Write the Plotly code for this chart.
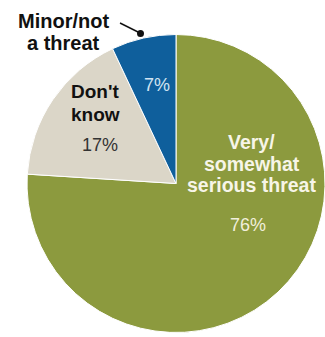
import plotly.graph_objects as go

W, H = 325, 337

categories = ["Very/somewhat serious threat", "Don't know", "Minor/not a threat"]
values = [76, 17, 7]
colors = ["#8C9A3E", "#DBD6C8", "#0F5F9C"]
label_lines = [["Very/", "somewhat", "serious threat"], ["Don't", "know"], ["Minor/not", "a threat"]]
pct_text = [f"{v}%" for v in values]

fig = go.Figure(go.Pie(
    labels=categories, values=values, sort=False, direction="clockwise", rotation=0,
    marker=dict(colors=colors, line=dict(color="white", width=1)),
    textinfo="none", hoverinfo="label+percent", showlegend=False,
    domain=dict(x=[27 / W, 1], y=[1 - 334 / H, 1 - 33 / H]),
))

FONT = "Liberation Sans, Arial, sans-serif"

def px(x, y):
    return x / W, 1 - y / H

anns = []
def add(text, x, y, size, color, bold):
    xx, yy = px(x, y)
    t = f"<b>{text}</b>" if bold else text
    anns.append(dict(text=t, x=xx, y=yy, xref="paper", yref="paper", showarrow=False,
                     xanchor="center", yanchor="middle",
                     font=dict(family=FONT, size=size, color=color)))

# Very/somewhat serious threat
for line, y in zip(label_lines[0], [142, 163.5, 184.5]):
    add(line, 252, y, 19.5, "#F7F5E8", True)
add(pct_text[0], 248, 225, 18, "#F1EFDC", False)
# Don't know
for line, y in zip(label_lines[1], [91.5, 114.5]):
    add(line, 95, y, 19, "#111111", True)
add(pct_text[1], 100, 145, 18, "#333333", False)
# Minor/not a threat
for line, y in zip(label_lines[2], [21, 43]):
    add(line, 63.5, y, 20, "#111111", True)
add(pct_text[2], 157, 85, 18, "#D3E4F2", False)

fig.update_layout(
    width=W, height=H, margin=dict(l=0, r=0, t=0, b=0),
    paper_bgcolor="white", plot_bgcolor="white",
    annotations=anns,
    shapes=[
        dict(type="line", xref="paper", yref="paper",
             x0=120 / W, y0=1 - 23 / H, x1=140 / W, y1=1 - 33 / H,
             line=dict(color="#111111", width=1.5)),
        dict(type="circle", xref="paper", yref="paper",
             x0=137 / W, y0=1 - 30 / H, x1=144 / W, y1=1 - 37 / H,
             fillcolor="#111111", line=dict(color="#111111", width=0)),
    ],
)

fig.write_html("out.html")
